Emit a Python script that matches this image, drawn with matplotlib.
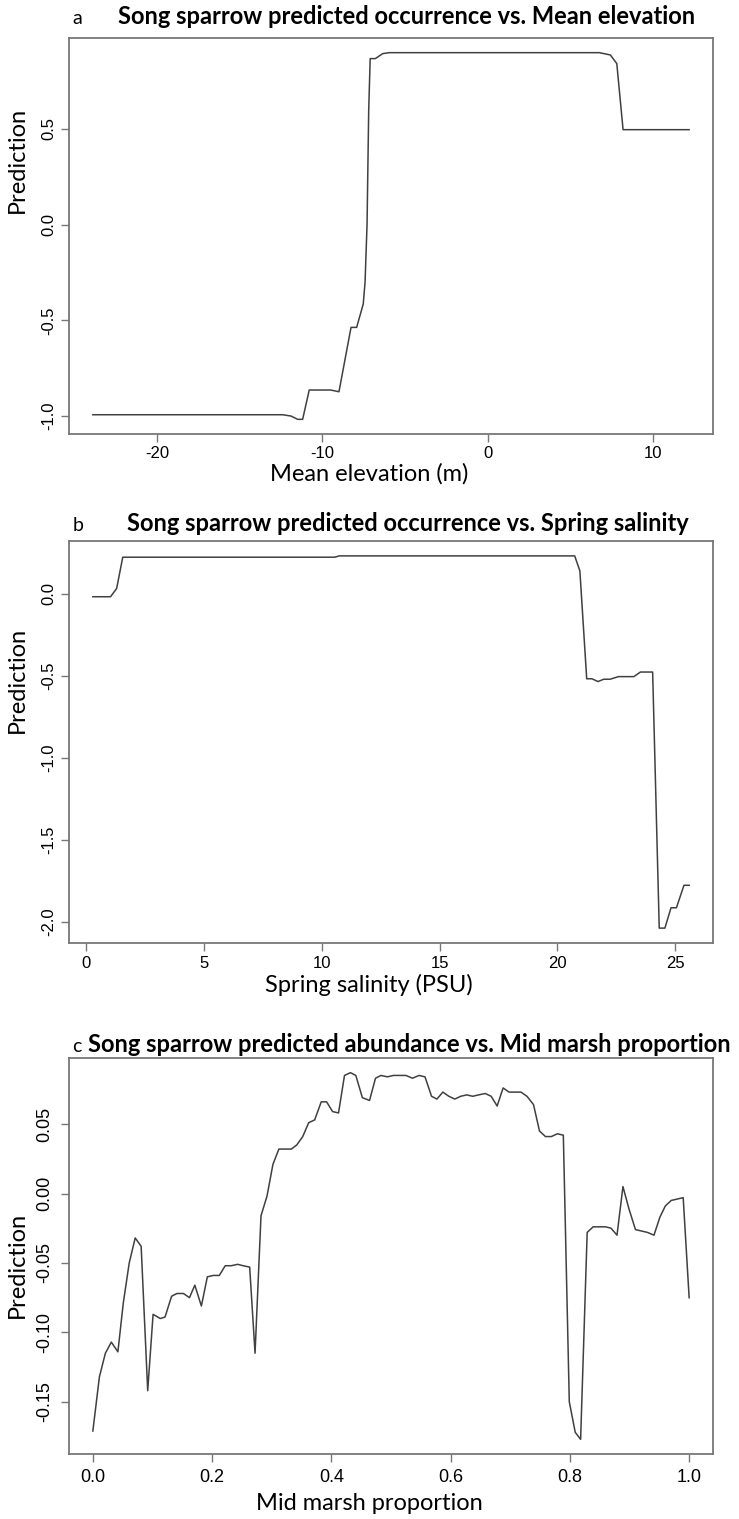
import matplotlib
matplotlib.use("Agg")
import matplotlib.pyplot as plt

# panel a: occurrence vs mean elevation
elev_x = [-23.9, -12.4, -11.9, -11.5, -11.2, -10.8, -9.5, -9.0, -8.27, -7.93,
          -7.53, -7.42, -7.3, -7.2, -7.11, -6.8, -6.35, -5.96, 6.77, 7.43,
          7.82, 8.2, 12.2]
elev_y = [-0.993, -0.993, -1.0, -1.017, -1.017, -0.864, -0.864, -0.873, -0.537, -0.537,
          -0.415, -0.30, 0.0, 0.596, 0.866, 0.866, 0.892, 0.897, 0.897, 0.885,
          0.84, 0.495, 0.495]

# panel b: occurrence vs spring salinity
salin_x = [0.28, 1.03, 1.29, 1.55, 10.55, 10.74, 20.74, 20.96, 21.25, 21.47,
           21.73, 21.97, 22.24, 22.6, 23.25, 23.53, 24.05, 24.33, 24.57, 24.83,
           25.06, 25.38, 25.6]
salin_y = [-0.017, -0.017, 0.033, 0.224, 0.224, 0.232, 0.232, 0.141, -0.517, -0.517,
           -0.534, -0.52, -0.52, -0.504, -0.504, -0.476, -0.476, -2.037, -2.037, -1.913,
           -1.913, -1.776, -1.776]

# panel c: abundance vs mid marsh proportion
marsh_x = [0.0, 0.011, 0.021, 0.031, 0.042, 0.051, 0.061, 0.071, 0.081, 0.092,
           0.101, 0.113, 0.121, 0.132, 0.141, 0.152, 0.162, 0.171, 0.182, 0.192,
           0.202, 0.212, 0.222, 0.232, 0.243, 0.252, 0.263, 0.272, 0.282, 0.292,
           0.302, 0.312, 0.323, 0.333, 0.342, 0.352, 0.362, 0.372, 0.383, 0.392,
           0.402, 0.412, 0.422, 0.432, 0.441, 0.452, 0.464, 0.474, 0.483, 0.494,
           0.504, 0.515, 0.525, 0.536, 0.547, 0.557, 0.568, 0.577, 0.587, 0.597,
           0.607, 0.617, 0.627, 0.637, 0.647, 0.658, 0.668, 0.678, 0.688, 0.698,
           0.708, 0.718, 0.728, 0.739, 0.749, 0.759, 0.769, 0.779, 0.789, 0.799,
           0.809, 0.818, 0.829, 0.839, 0.849, 0.860, 0.869, 0.879, 0.889, 0.899,
           0.910, 0.920, 0.930, 0.941, 0.951, 0.960, 0.970, 0.980, 0.990, 1.0]
marsh_y = [-0.171, -0.132, -0.115, -0.107, -0.114, -0.079, -0.050, -0.032, -0.038, -0.142,
           -0.087, -0.090, -0.089, -0.074, -0.072, -0.072, -0.075, -0.066, -0.081, -0.060,
           -0.059, -0.059, -0.052, -0.052, -0.051, -0.052, -0.053, -0.115, -0.016, -0.002,
           0.021, 0.032, 0.032, 0.032, 0.035, 0.041, 0.051, 0.053, 0.066, 0.066,
           0.059, 0.058, 0.085, 0.087, 0.085, 0.069, 0.067, 0.083, 0.085, 0.084,
           0.085, 0.085, 0.085, 0.083, 0.085, 0.084, 0.070, 0.068, 0.073, 0.070,
           0.068, 0.070, 0.071, 0.070, 0.071, 0.072, 0.070, 0.063, 0.076, 0.073,
           0.073, 0.073, 0.070, 0.064, 0.045, 0.041, 0.041, 0.043, 0.042, -0.150,
           -0.172, -0.177, -0.028, -0.024, -0.024, -0.024, -0.025, -0.030, 0.005, -0.011,
           -0.026, -0.027, -0.028, -0.030, -0.017, -0.009, -0.005, -0.004, -0.003, -0.075]

W, H = 739, 1519
fig = plt.figure(figsize=(W / 100, H / 100), dpi=100)

title_font = ["Lato", "DejaVu Sans"]
narrow = ["Liberation Sans Narrow", "Liberation Sans"]
line_col = "#404040"
box_col = "#777777"


def fx(px):
    return px / W


def fy(py):
    return 1 - py / H


def panel(top, bottom, xs, ys, xticks, yticks, xlabels, ylabels, tick_font, tick_size, pad):
    ax = fig.add_axes([fx(69), fy(bottom), fx(713) - fx(69), fy(top) - fy(bottom)])
    ax.plot(xs, ys, color=line_col, lw=1.1)
    ax.margins(x=0.04, y=0.04)
    ax.set_xticks(xticks)
    ax.set_xticklabels(xlabels, family=tick_font, fontsize=tick_size)
    ax.set_yticks(yticks)
    ax.set_yticklabels(ylabels, family=tick_font, fontsize=tick_size,
                       rotation=90, va="center")
    ax.tick_params(direction="out", length=6, width=1, color=box_col, pad=pad)
    for s in ax.spines.values():
        s.set_color(box_col)
        s.set_linewidth(1.3)
    return ax


lab_size = 17

# a
panel(38, 434, elev_x, elev_y, [-20, -10, 0, 10], [-1.0, -0.5, 0.0, 0.5],
      ["-20", "-10", "0", "10"], ["-1.0", "-0.5", "0.0", "0.5"], narrow, 12, 3)
fig.text(fx(72), fy(24), "a", family=title_font, fontsize=14, va="baseline")
fig.text(fx(407), fy(24), "Song sparrow predicted occurrence vs. Mean elevation",
         family=title_font, fontsize=17, weight="bold", ha="center", va="baseline")
fig.text(fx(369), fy(474), "Mean elevation (m)", family=title_font, fontsize=lab_size,
         ha="center", va="center")
fig.text(fx(17), fy(160), "Prediction", family=title_font, fontsize=lab_size,
         rotation=90, ha="center", va="center")

# b
panel(541, 943, salin_x, salin_y, [0, 5, 10, 15, 20, 25], [-2.0, -1.5, -1.0, -0.5, 0.0],
      ["0", "5", "10", "15", "20", "25"], ["-2.0", "-1.5", "-1.0", "-0.5", "0.0"], narrow, 12, 3)
fig.text(fx(73), fy(531), "b", family=title_font, fontsize=14, va="baseline")
fig.text(fx(408), fy(531), "Song sparrow predicted occurrence vs. Spring salinity",
         family=title_font, fontsize=17, weight="bold", ha="center", va="baseline")
fig.text(fx(369), fy(985), "Spring salinity (PSU)", family=title_font, fontsize=lab_size,
         ha="center", va="center")
fig.text(fx(17), fy(680), "Prediction", family=title_font, fontsize=lab_size,
         rotation=90, ha="center", va="center")

# c
panel(1058, 1454, marsh_x, marsh_y, [0.0, 0.2, 0.4, 0.6, 0.8, 1.0],
      [-0.15, -0.10, -0.05, 0.00, 0.05],
      ["0.0", "0.2", "0.4", "0.6", "0.8", "1.0"], ["-0.15", "-0.10", "-0.05", "0.00", "0.05"],
      ["Liberation Sans"], 13, 5)
fig.text(fx(72), fy(1052), "c", family=title_font, fontsize=14, va="baseline")
fig.text(fx(88), fy(1052), "Song sparrow predicted abundance vs. Mid marsh proportion",
         family=title_font, fontsize=17, weight="bold", ha="left", va="baseline")
fig.text(fx(369), fy(1503), "Mid marsh proportion", family=title_font, fontsize=lab_size,
         ha="center", va="center")
fig.text(fx(17), fy(1265), "Prediction", family=title_font, fontsize=lab_size,
         rotation=90, ha="center", va="center")

fig.savefig("out.png", dpi=100)
